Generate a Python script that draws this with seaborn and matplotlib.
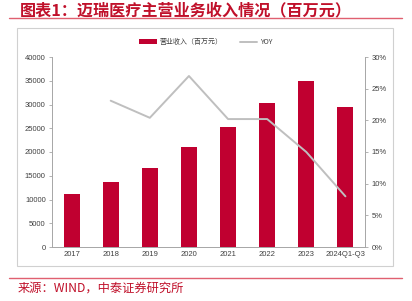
import matplotlib
matplotlib.use("Agg")
import matplotlib.pyplot as plt
import seaborn as sns
import numpy as np
import pandas as pd
from matplotlib.patches import Patch, Rectangle
from matplotlib.lines import Line2D

categories = ["2017", "2018", "2019", "2020", "2021", "2022", "2023", "2024Q1-Q3"]
revenue = [11174, 13753, 16556, 21026, 25270, 30366, 34932, 29485]
yoy_categories = ["2018", "2019", "2020", "2021", "2022", "2023", "2024Q1-Q3"]
yoy = [23.1, 20.4, 27.0, 20.2, 20.2, 15.0, 8.0]
left_ticks = [0, 5000, 10000, 15000, 20000, 25000, 30000, 35000, 40000]
right_ticks = [0, 5, 10, 15, 20, 25, 30]

title = "图表1：迈瑞医疗主营业务收入情况（百万元）"
source = "来源：WIND，中泰证券研究所"
bar_label = "营业收入（百万元）"
line_label = "YOY"

sns.set_theme(style="white")
plt.rcParams['font.family'] = ['Noto Sans CJK SC', 'DejaVu Sans']
plt.rcParams['axes.unicode_minus'] = False

bar_color = "#C00030"
line_color = "#BFBFBF"
grey = "#404040"
spine_c = "#A6A6A6"

fig = plt.figure(figsize=(4.12, 3.01), dpi=100)
ax = fig.add_axes([52/412, 1-247/301, (365-52)/412, (247-57)/301])

df = pd.DataFrame({"cat": categories, "rev": revenue})
sns.barplot(data=df, x="cat", y="rev", color=bar_color, width=0.41, ax=ax,
            saturation=1, edgecolor="none")
ax.set_xlim(-0.5, len(categories)-0.5)
ax.set_ylim(0, 40000)
ax.set_yticks(left_ticks)
ax.set_yticklabels([str(t) for t in left_ticks])
ax.set_xlabel("")
ax.set_ylabel("")

ax2 = ax.twinx()
pos = [categories.index(c) for c in yoy_categories]
ydf = pd.DataFrame({"x": pos, "yoy": yoy})
sns.lineplot(data=ydf, x="x", y="yoy", color=line_color, linewidth=1.4, ax=ax2)
ax2.set_ylim(0, 30)
ax2.set_yticks(right_ticks)
ax2.set_yticklabels([f"{t}%" for t in right_ticks])
ax2.set_xlabel("")
ax2.set_ylabel("")
ax.set_xlim(-0.5, len(categories)-0.5)

for a in (ax, ax2):
    for s in a.spines.values():
        s.set_visible(False)
    a.tick_params(colors=grey, labelsize=5.5, length=2.5, width=0.6, pad=2)
    for lab in a.get_xticklabels() + a.get_yticklabels():
        lab.set_family(['Liberation Sans', 'DejaVu Sans'])
ax.spines['left'].set_visible(True)
ax.spines['left'].set_color(spine_c)
ax.spines['left'].set_linewidth(0.7)
ax.spines['bottom'].set_visible(True)
ax.spines['bottom'].set_color(spine_c)
ax.spines['bottom'].set_linewidth(0.7)
ax2.spines['right'].set_visible(True)
ax2.spines['right'].set_color(spine_c)
ax2.spines['right'].set_linewidth(0.7)
ax.tick_params(axis='y', color=spine_c)
ax2.tick_params(axis='y', color=spine_c)
ax.tick_params(axis='x', length=0, pad=3)
ax.set_xticks(np.arange(-0.5, len(categories)), minor=True)
ax.tick_params(axis='x', which='minor', length=2.5, color=spine_c, width=0.6)
ax2.tick_params(axis='x', which='both', length=0, labelbottom=False)

handles = [Patch(facecolor=bar_color, edgecolor="none"),
           Line2D([0], [0], color=line_color, lw=1.4)]
leg = fig.legend(handles, [bar_label, line_label], loc="center",
                 bbox_to_anchor=(206/412, 1-42/301), ncol=2, frameon=False,
                 fontsize=5, handlelength=2.5, handleheight=0.6,
                 columnspacing=2.5, handletextpad=0.4)
for t in leg.get_texts():
    t.set_color(grey)

# outer frame
fig.patches.append(Rectangle((17/412, 1-266/301), (393-17)/412, (266-28)/301,
                             transform=fig.transFigure, fill=False,
                             edgecolor="#D0D0D0", linewidth=0.8))
# title and red rules
red = "#C0102A"
fig.text(20/412, 1-15/301, title, color=red, fontsize=11.6, fontweight="bold",
         fontstyle="italic", va="baseline", ha="left")
fig.add_artist(Line2D([9/412, 402/412], [1-18/301, 1-18/301],
                      transform=fig.transFigure, color="#E06070", lw=1.0))
fig.add_artist(Line2D([9/412, 402/412], [1-278/301, 1-278/301],
                      transform=fig.transFigure, color="#E06070", lw=1.0))
fig.text(18/412, 1-288/301, source, color=red, fontsize=8.8, va="center", ha="left")

fig.savefig("out.png", dpi=100)
